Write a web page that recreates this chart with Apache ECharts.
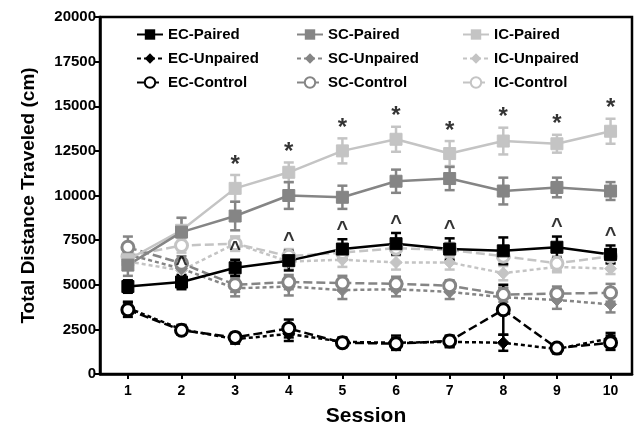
<!DOCTYPE html>
<html>
<head>
<meta charset="utf-8">
<script src="https://cdn.jsdelivr.net/npm/echarts@6/dist/echarts.min.js"></script>
<style>
  html, body { margin: 0; padding: 0; background: #fff; }
  #chart { width: 644px; height: 438px; }
</style>
</head>
<body>
<div id="chart"></div>
<script>
// sessions on the x axis
var sessions = [1, 2, 3, 4, 5, 6, 7, 8, 9, 10];
var yTicks = [0, 2500, 5000, 7500, 10000, 12500, 15000, 17500, 20000];

// means (cm)
var ecPaired   = [4900, 5150, 5950, 6350, 7000, 7300, 7000, 6900, 7100, 6700];
var ecUnpaired = [3700, 2500, 1950, 2250, 1800, 1750, 1800, 1750, 1400, 2000];
var ecControl  = [3600, 2450, 2050, 2550, 1750, 1700, 1850, 3600, 1450, 1750];
var scPaired   = [6100, 7950, 8850, 10000, 9900, 10800, 10950, 10250, 10450, 10250];
var scUnpaired = [6700, 5900, 4800, 4900, 4700, 4750, 4600, 4300, 4150, 3900];
var scControl  = [7100, 6200, 5000, 5150, 5100, 5050, 4950, 4450, 4500, 4550];
var icPaired   = [6400, 8050, 10400, 11300, 12500, 13150, 12350, 13050, 12900, 13600];
var icUnpaired = [6300, 5800, 7300, 6300, 6400, 6250, 6250, 5650, 6000, 5900];
var icControl  = [6600, 7200, 7300, 6600, 6800, 7050, 6950, 6600, 6200, 6600];

// error bars (+/-)
var ecPairedErr   = [350, 400, 450, 550, 550, 600, 600, 750, 600, 500];
var ecUnpairedErr = [350, 250, 250, 400, 250, 400, 300, 450, 250, 300];
var ecControlErr  = [400, 250, 250, 500, 250, 300, 300, 1400, 200, 400];
var scPairedErr   = [600, 800, 800, 750, 650, 650, 650, 750, 550, 500];
var scUnpairedErr = [500, 400, 450, 500, 500, 400, 400, 500, 500, 450];
var scControlErr  = [600, 400, 400, 400, 400, 400, 300, 400, 400, 500];
var icPairedErr   = [500, 700, 750, 550, 700, 700, 700, 750, 500, 700];
var icUnpairedErr = [400, 400, 400, 400, 400, 400, 400, 400, 300, 300];
var icControlErr  = [400, 400, 400, 400, 400, 400, 400, 400, 400, 400];

// significance marks
var starSessions  = [3, 4, 5, 6, 7, 8, 9, 10];   // * above IC-Paired
var caretSessions = [2, 3, 4, 5, 6, 7, 9, 10];   // ^ above EC-Paired

var BLACK = '#000000', MID = '#858585', LIGHT = '#c4c4c4';
var FONT = 'Liberation Sans';

var groups = [
  {name: 'IC-Unpaired', v: icUnpaired, e: icUnpairedErr, c: LIGHT, kind: 'unpaired'},
  {name: 'IC-Control',  v: icControl,  e: icControlErr,  c: LIGHT, kind: 'control'},
  {name: 'SC-Unpaired', v: scUnpaired, e: scUnpairedErr, c: MID,   kind: 'unpaired'},
  {name: 'SC-Control',  v: scControl,  e: scControlErr,  c: MID,   kind: 'control'},
  {name: 'IC-Paired',   v: icPaired,   e: icPairedErr,   c: LIGHT, kind: 'paired'},
  {name: 'SC-Paired',   v: scPaired,   e: scPairedErr,   c: MID,   kind: 'paired'},
  {name: 'EC-Unpaired', v: ecUnpaired, e: ecUnpairedErr, c: BLACK, kind: 'unpaired'},
  {name: 'EC-Control',  v: ecControl,  e: ecControlErr,  c: BLACK, kind: 'control'},
  {name: 'EC-Paired',   v: ecPaired,   e: ecPairedErr,   c: BLACK, kind: 'paired'}
];

function errorSeries(g) {
  return {
    type: 'custom',
    silent: true,
    z: 2,
    data: sessions.map(function (s, i) { return [s, g.v[i] - g.e[i], g.v[i] + g.e[i]]; }),
    renderItem: function (params, api) {
      var lo = api.coord([api.value(0), api.value(1)]);
      var hi = api.coord([api.value(0), api.value(2)]);
      var w = 5;
      var st = {stroke: g.c, lineWidth: 2.5};
      return {
        type: 'group',
        children: [
          {type: 'line', shape: {x1: lo[0], y1: lo[1], x2: hi[0], y2: hi[1]}, style: st},
          {type: 'line', shape: {x1: lo[0] - w, y1: lo[1], x2: lo[0] + w, y2: lo[1]}, style: st},
          {type: 'line', shape: {x1: hi[0] - w, y1: hi[1], x2: hi[0] + w, y2: hi[1]}, style: st}
        ]
      };
    }
  };
}

function lineSeries(g) {
  var s = {
    name: g.name,
    type: 'line',
    z: 3,
    data: sessions.map(function (x, i) { return [x, g.v[i]]; }),
    lineStyle: {color: g.c, width: 2.5},
    itemStyle: {color: g.c, borderColor: g.c},
    symbolSize: 12
  };
  if (g.kind === 'paired') {
    s.symbol = 'rect';
    s.lineStyle.type = 'solid';
  } else if (g.kind === 'unpaired') {
    s.symbol = 'diamond';
    s.symbolSize = 12;
    s.lineStyle.type = [4, 3];
  } else {
    s.symbol = 'circle';
    s.symbolSize = 12;
    s.lineStyle.type = [9, 4];
    s.itemStyle = {color: '#fff', borderColor: g.c, borderWidth: 3};
  }
  return s;
}

var series = [];
groups.forEach(function (g) {
  series.push(errorSeries(g));
  series.push(lineSeries(g));
});

function markSeries(list, mean, err, text, size, dist) {
  return {
    type: 'scatter',
    silent: true,
    symbolSize: 0,
    z: 5,
    data: list.map(function (s) { return [s, mean[s - 1] + err[s - 1]]; }),
    label: {
      show: true, position: 'top', distance: dist, formatter: text,
      color: '#000', fontFamily: FONT, fontWeight: 'bold', fontSize: size
    }
  };
}
series.push(markSeries(starSessions, icPaired, icPairedErr, '*', 24, -2));
series.push(markSeries(caretSessions, ecPaired, ecPairedErr, '^', 20, 0));

function legendBlock(left, names) {
  return {
    orient: 'vertical',
    left: left, top: 22,
    itemWidth: 26, itemHeight: 13, itemGap: 9,
    data: names,
    textStyle: {fontFamily: FONT, fontWeight: 'bold', fontSize: 15, color: '#000'},
    selectedMode: false
  };
}

var chart = echarts.init(document.getElementById('chart'));
chart.setOption({
  animation: false,
  backgroundColor: '#fff',
  grid: {left: 100, right: 12, top: 17, bottom: 64, show: true, borderColor: '#000', borderWidth: 2.5, backgroundColor: 'transparent'},
  legend: [
    legendBlock(131, ['EC-Paired', 'EC-Unpaired', 'EC-Control']),
    legendBlock(291, ['SC-Paired', 'SC-Unpaired', 'SC-Control']),
    legendBlock(457, ['IC-Paired', 'IC-Unpaired', 'IC-Control'])
  ],
  xAxis: {
    type: 'value',
    min: 0.48, max: 10.4,
    name: 'Session', nameLocation: 'middle', nameGap: 32,
    nameTextStyle: {fontFamily: FONT, fontWeight: 'bold', fontSize: 21, color: '#000'},
    axisLine: {lineStyle: {color: '#000', width: 2.5}},
    axisTick: {show: true, customValues: sessions, length: 5, lineStyle: {color: '#000', width: 2}},
    axisLabel: {customValues: sessions, fontFamily: FONT, fontWeight: 'bold', fontSize: 14, color: '#000', margin: 10},
    splitLine: {show: false}
  },
  yAxis: {
    type: 'value',
    min: 0, max: 20000, interval: 2500,
    name: 'Total Distance Traveled (cm)', nameLocation: 'middle', nameGap: 62,
    nameTextStyle: {fontFamily: FONT, fontWeight: 'bold', fontSize: 19, color: '#000'},
    axisLine: {show: true, lineStyle: {color: '#000', width: 2.5}},
    axisTick: {show: true, length: 5, lineStyle: {color: '#000', width: 2}},
    axisLabel: {
      customValues: yTicks,
      formatter: function (v) { return String(v); },
      fontFamily: FONT, fontWeight: 'bold', fontSize: 15, color: '#000', margin: 4
    },
    splitLine: {show: false}
  },
  series: series
});
</script>
</body>
</html>
